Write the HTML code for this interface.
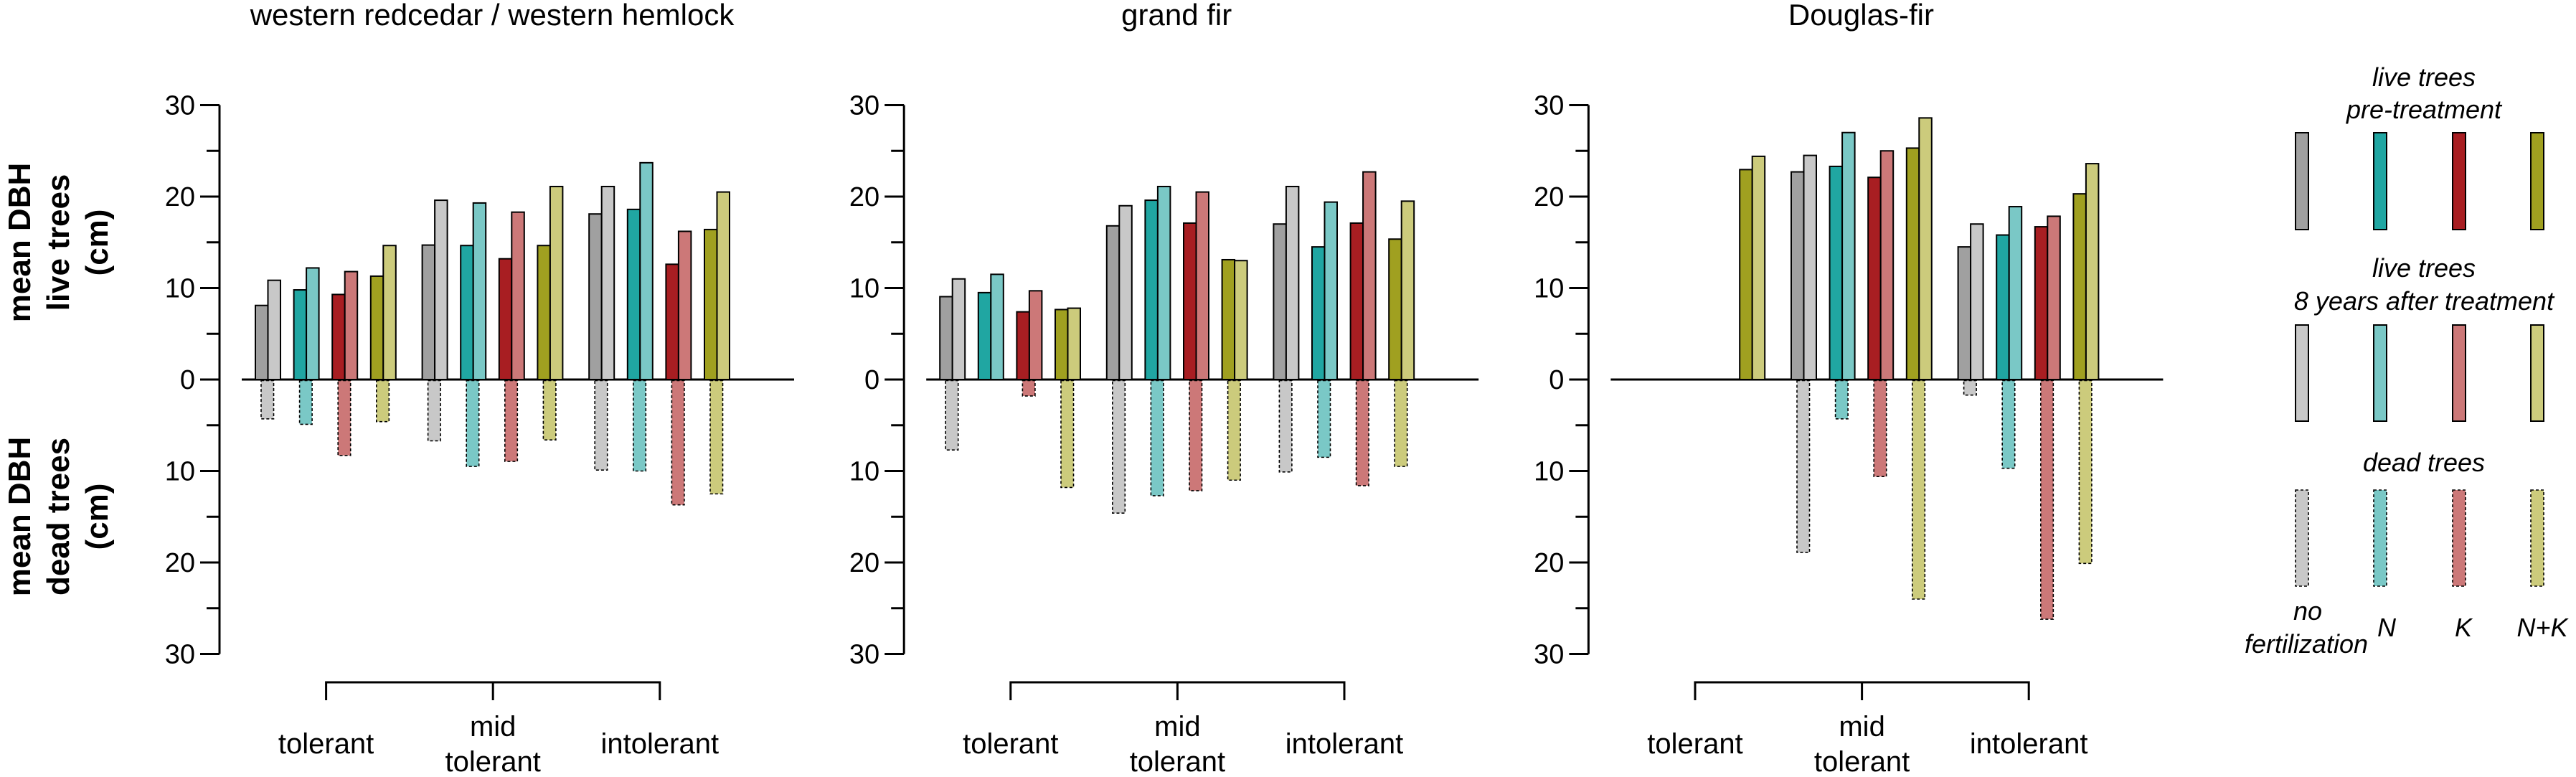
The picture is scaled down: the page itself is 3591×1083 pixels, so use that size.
<!DOCTYPE html>
<html><head><meta charset="utf-8"><style>html,body{margin:0;padding:0;background:#fff}svg{display:block}text{font-family:"Liberation Sans",Arial,sans-serif}</style></head>
<body>
<svg id="chart" width="3591" height="1083" viewBox="0 0 3591 1083" xmlns="http://www.w3.org/2000/svg">
<g font-weight="bold" font-size="44" text-anchor="middle">
<text transform="translate(42,338) rotate(-90)">mean DBH</text>
<text transform="translate(96,338) rotate(-90)">live trees</text>
<text transform="translate(150,338) rotate(-90)">(cm)</text>
</g>
<g font-weight="bold" font-size="44" text-anchor="middle">
<text transform="translate(42,720) rotate(-90)">mean DBH</text>
<text transform="translate(96,720) rotate(-90)">dead trees</text>
<text transform="translate(150,720) rotate(-90)">(cm)</text>
</g>
<g id="panels"></g>
<g id="legend"></g>
</svg>
<script>
const panelTitles = ["western redcedar / western hemlock", "grand fir", "Douglas-fir"];
const categories = ["tolerant", "mid tolerant", "intolerant"];
const treatments = ["no fertilization", "N", "K", "N+K"];
const yTicks = [30, 20, 10, 0, 10, 20, 30];
// [panel][category][treatment]
const preValues = [
  [[8.1,9.8,9.3,11.3],[14.7,14.65,13.2,14.65],[18.1,18.6,12.6,16.4]],
  [[9.06,9.5,7.4,7.65],[16.8,19.6,17.1,13.1],[17.0,14.5,17.1,15.35]],
  [[null,null,null,22.95],[22.7,23.3,22.1,25.3],[14.5,15.8,16.7,20.3]]
];
const postValues = [
  [[10.85,12.2,11.8,14.65],[19.6,19.3,18.3,21.1],[21.1,23.7,16.2,20.5]],
  [[11.0,11.5,9.7,7.8],[19.0,21.1,20.5,13.0],[21.1,19.4,22.7,19.5]],
  [[null,null,null,24.4],[24.5,27.0,25.0,28.6],[17.0,18.9,17.85,23.6]]
];
const deadValues = [
  [[4.3,4.9,8.3,4.6],[6.7,9.5,8.95,6.6],[9.9,10.0,13.7,12.5]],
  [[7.7,null,1.8,11.8],[14.6,12.7,12.15,11.0],[10.1,8.5,11.6,9.5]],
  [[null,null,null,null],[18.9,4.3,10.6,24.0],[1.7,9.7,26.2,20.1]]
];

const NS = "http://www.w3.org/2000/svg";
const preColors = ["#a0a0a0","#20a6a2","#a81e22","#a0a020"];
const postColors = ["#c8c8c8","#7ac8c6","#cc7878","#cccb7c"];
const Y0 = 529, UNIT = 12.75, BW = 17.5;
function yScale(v){ return Y0 - v*UNIT; }
function mk(tag, attrs, parent){ const e=document.createElementNS(NS,tag); for(const k in attrs) e.setAttribute(k,attrs[k]); parent.appendChild(e); return e; }
const panelsG = document.getElementById('panels');

panelTitles.forEach((title, p) => {
  const ax = 306 + p*954.2;
  const g = mk('g', {}, panelsG);
  
  
  const t = mk('text', {x: ax+380, y: 35, 'font-size': 42, 'text-anchor':'middle'}, g);
  
  
  t.textContent = title;
  // y axis
  const axis = mk('line', {x1: ax, y1: yScale(30), x2: ax, y2: yScale(-30), stroke:'#000', 'stroke-width':3}, g);
  
  
  for (let v = 30; v >= -30; v -= 5) {
    const major = v % 10 === 0;
    mk('line', {x1: ax - (major?27:18), y1: yScale(v), x2: ax, y2: yScale(v), stroke:'#000','stroke-width':3}, g);
  }
  yTicks.forEach((lab, i) => {
    const v = 30 - i*10;
    const tl = mk('text', {x: ax-34, y: yScale(v)+13, 'font-size':38, 'text-anchor':'end'}, g);
    
    
    tl.textContent = lab;
  });
  // baseline
  const bl = mk('line', {x1: ax+31, y1: Y0, x2: ax+801, y2: Y0, stroke:'#000','stroke-width':3}, g);
  
  
  // bars
  categories.forEach((cat, c) => {
    const cx = ax + 148.6 + c*232.6;
    treatments.forEach((tr, k) => {
      const left = cx - 98.6 + k*53.6;
      const pv = preValues[p][c][k], qv = postValues[p][c][k], dv = deadValues[p][c][k];
      if (pv != null) {
        const r = mk('rect', {x:left, y:yScale(pv), width:BW, height:pv*UNIT, fill:preColors[k], stroke:'#000','stroke-width':2}, g);
        
        
      }
      if (qv != null) {
        const r = mk('rect', {x:left+BW, y:yScale(qv), width:BW, height:qv*UNIT, fill:postColors[k], stroke:'#000','stroke-width':2}, g);
        
        
      }
      if (dv != null) {
        const r = mk('rect', {x:left+8, y:Y0+1.5, width:BW, height:dv*UNIT-1.5, fill:postColors[k], stroke:'#000','stroke-width':1.6,'stroke-dasharray':'4,3'}, g);
        
        
      }
    });
  });
  // bracket
  const c0 = ax+148.6, c2 = ax+148.6+2*232.6;
  const br = mk('path', {d:`M${c0},976 V951 H${c2} V976 M${c0+232.6},951 V976`, fill:'none', stroke:'#000','stroke-width':3}, g);
  
  
  categories.forEach((cat, c) => {
    const x = ax + 148.6 + c*232.6;
    const words = cat.split(' ');
    const tx = mk('text', {x:x, 'font-size':40, 'text-anchor':'middle'}, g);
    
    
    if (words.length === 1) { tx.setAttribute('y', 1050); tx.textContent = cat; }
    else {
      const a = mk('tspan', {x:x, y:1026}, tx); a.textContent = words[0];
      const b = mk('tspan', {x:x, y:1075}, tx); b.textContent = words[1];
    }
  });
});

// legend
const lg = document.getElementById('legend');
const lx = [3209, 3318, 3428, 3537];
function ltext(str, x, y, name){ const t = mk('text', {x:x, y:y, 'font-size':36, 'font-style':'italic', 'text-anchor':'middle'}, lg);   t.textContent = str; }
ltext('live trees', 3379, 120, 'legend-title-pre');
ltext('pre-treatment', 3379, 165, 'legend-title-pre');
ltext('live trees', 3379, 386, 'legend-title-post');
ltext('8 years after treatment', 3379, 432, 'legend-title-post');
ltext('dead trees', 3379, 657, 'legend-title-dead');
treatments.forEach((tr, k) => {
  const x = lx[k] - 9;
  const a = mk('rect', {x:x, y:185, width:18, height:135, fill:preColors[k], stroke:'#000','stroke-width':2}, lg);
  
  
  const b = mk('rect', {x:x, y:453, width:18, height:134, fill:postColors[k], stroke:'#000','stroke-width':2}, lg);
  
  
  const d = mk('rect', {x:x, y:683, width:18, height:134, fill:postColors[k], stroke:'#000','stroke-width':1.6,'stroke-dasharray':'4,3'}, lg);
  
  
});
ltext('no', 3217, 864, 'legend-label-no-fertilization');
ltext('fertilization', 3215, 910, 'legend-label-no-fertilization');
ltext('N', 3327, 887, 'legend-label-n');
ltext('K', 3434, 887, 'legend-label-k');
ltext('N+K', 3544, 887, 'legend-label-nk');
</script>
</body></html>
